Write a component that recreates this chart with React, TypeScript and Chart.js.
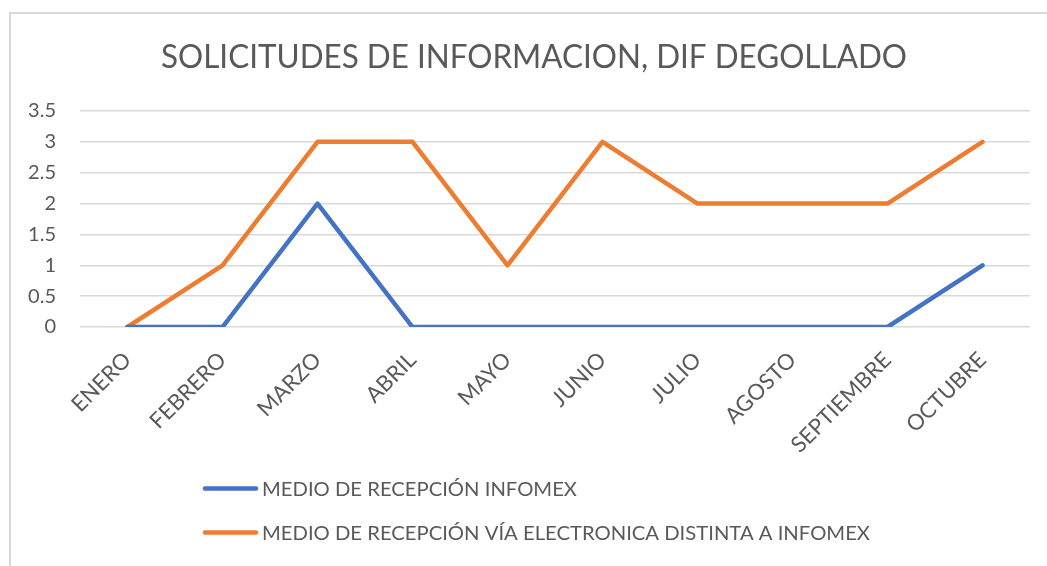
import React, { useEffect, useRef } from "react";
import { Chart, registerables } from "chart.js";

Chart.register(...registerables);

const months = ["ENERO", "FEBRERO", "MARZO", "ABRIL", "MAYO", "JUNIO", "JULIO", "AGOSTO", "SEPTIEMBRE", "OCTUBRE"];
const infomexValues = [0, 0, 2, 0, 0, 0, 0, 0, 0, 1];
const electronicaValues = [0, 1, 3, 3, 1, 3, 2, 2, 2, 3];
const seriesNames = [
  "MEDIO DE RECEPCIÓN INFOMEX",
  "MEDIO DE RECEPCIÓN VÍA ELECTRONICA DISTINTA A INFOMEX",
];
const titleText = "SOLICITUDES DE INFORMACION, DIF DEGOLLADO";
const yMin = 0;
const yMax = 3.5;
const yStep = 0.5;

const FONT = "Lato, sans-serif";
const TEXT_COLOR = "#595959";
const GRID_COLOR = "#d9d9d9";
const BLUE = "#4472C4";
const ORANGE = "#ED7D31";

const decorPlugin = {
  id: "decor",
  beforeDraw(chart: any) {
    const ctx = chart.ctx;
    ctx.save();
    ctx.strokeStyle = GRID_COLOR;
    ctx.lineWidth = 2;
    ctx.strokeRect(10, 13, 1200, 700);
    ctx.restore();
  },
  afterDraw(chart: any) {
    const ctx = chart.ctx;
    ctx.save();
    // title (stretched to the reference width)
    ctx.fillStyle = TEXT_COLOR;
    ctx.font = `32px ${FONT}`;
    ctx.textBaseline = "alphabetic";
    ctx.textAlign = "left";
    const titleW = ctx.measureText(titleText).width;
    const titleTarget = 746;
    const tsx = titleTarget / titleW;
    ctx.save();
    ctx.translate(534 - titleTarget / 2, 68);
    ctx.scale(tsx, 1);
    ctx.fillText(titleText, 0, 0);
    ctx.restore();

    // legend
    const colors = [BLUE, ORANGE];
    const ys = [488.5, 532.5];
    ctx.font = `20px ${FONT}`;
    const firstW = ctx.measureText(seriesNames[0]).width;
    const lsx = 315 / firstW;
    for (let i = 0; i < seriesNames.length; i++) {
      ctx.strokeStyle = colors[i];
      ctx.lineWidth = 4.5;
      ctx.lineCap = "round";
      ctx.beginPath();
      ctx.moveTo(205, ys[i]);
      ctx.lineTo(256, ys[i]);
      ctx.stroke();
      ctx.fillStyle = TEXT_COLOR;
      ctx.save();
      ctx.translate(262, ys[i] + 7.5);
      ctx.scale(lsx, 1);
      ctx.fillText(seriesNames[i], 0, 0);
      ctx.restore();
    }
    ctx.restore();
  },
};

export default function App() {
  const ref = useRef<HTMLCanvasElement>(null);
  useEffect(() => {
    if (!ref.current) return;
    const chart = new Chart(ref.current, {
      type: "line",
      data: {
        labels: months,
        datasets: [
          {
            label: seriesNames[0],
            data: infomexValues,
            borderColor: BLUE,
            backgroundColor: BLUE,
            borderWidth: 4.5,
            pointRadius: 0,
            tension: 0,
            borderCapStyle: "round",
            borderJoinStyle: "round",
          },
          {
            label: seriesNames[1],
            data: electronicaValues,
            borderColor: ORANGE,
            backgroundColor: ORANGE,
            borderWidth: 4.5,
            pointRadius: 0,
            tension: 0,
            borderCapStyle: "round",
            borderJoinStyle: "round",
          },
        ],
      },
      options: {
        animation: false,
        responsive: false,
        layout: { padding: { left: 20, right: 17, top: 111, bottom: 89 } },
        plugins: {
          legend: { display: false },
          title: { display: false },
          tooltip: { enabled: false },
        },
        scales: {
          x: {
            offset: true,
            grid: { display: false, drawTicks: false },
            border: { display: false },
            ticks: {
              color: TEXT_COLOR,
              font: { family: FONT, size: 22 },
              minRotation: 45,
              maxRotation: 45,
              padding: 20,
              autoSkip: false,
            },
            afterFit: (s: any) => {
              s.height = 150;
            },
          },
          y: {
            min: yMin,
            max: yMax,
            grid: { color: GRID_COLOR, lineWidth: 1.5, drawTicks: false },
            border: { display: false },
            ticks: {
              stepSize: yStep,
              color: TEXT_COLOR,
              font: { family: FONT, size: 20 },
              padding: 24,
              callback: (v: any) => String(v),
            },
            afterFit: (s: any) => {
              s.width = 60;
            },
          },
        },
      },
      plugins: [decorPlugin],
    });
    return () => chart.destroy();
  }, []);
  return (
    <div style={{ position: "fixed", left: 0, top: 0, width: 1047, height: 566, background: "#fff" }}>
      <canvas ref={ref} width={1047} height={566} style={{ display: "block" }} />
    </div>
  );
}
